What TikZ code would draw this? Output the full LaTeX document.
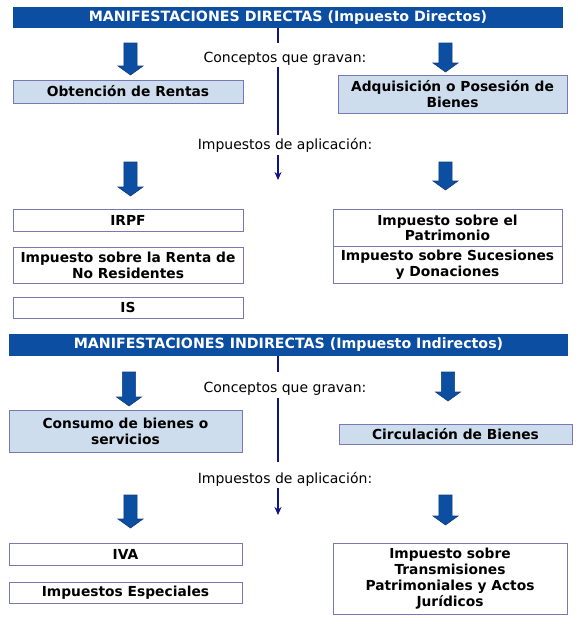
\documentclass[tikz,border=0pt]{standalone}
\usepackage{fontspec}
\setmainfont{DejaVu Sans}
\usetikzlibrary{arrows.meta}

\definecolor{hdrblue}{HTML}{0B4EA2}
\definecolor{arrblue}{HTML}{0B4EA2}
\definecolor{arredge}{HTML}{163D7A}
\definecolor{axisblue}{HTML}{12128A}
\definecolor{boxedge}{HTML}{7878B4}
\definecolor{boxfill}{HTML}{CEDDED}

\begin{document}
\begin{tikzpicture}[
  x=1pt, y=-1pt,
  header/.style={fill=hdrblue, text=white, inner sep=0pt,
    font=\bfseries\fontsize{14.2}{16}\selectfont},
  conceptbox/.style={draw=boxedge, fill=boxfill, line width=0.8pt, inner sep=0pt,
    align=center, font=\bfseries\fontsize{13.8}{16}\selectfont},
  taxbox/.style={conceptbox, fill=white},
  tight/.style={font=\bfseries\fontsize{13.8}{15.5}\selectfont},
  caption/.style={fill=white, anchor=base, inner xsep=3pt, inner ysep=0pt,
    font=\fontsize{14}{16}\selectfont},
  axisline/.style={draw=axisblue, line width=1.7pt, -{Stealth[length=8pt,width=7pt]}},
  pics/blockarrow/.style={code={
    \filldraw[fill=arrblue, draw=arredge, line width=0.6pt]
      (-6.6,0) -- (6.6,0) -- (6.6,#1-9) -- (12.5,#1-9) -- (0,#1)
      -- (-12.5,#1-9) -- (-6.6,#1-9) -- cycle;}}
]
\useasboundingbox (0,0) rectangle (578,629);

% ---------------- direct taxes ----------------
\node[header, minimum width=550pt, minimum height=21pt] (hdr1) at (288,17.5)
  {MANIFESTACIONES DIRECTAS (Impuesto Directos)};

\coordinate (ax1) at (278,180);
\draw[axisline] (hdr1.south -| ax1) -- (ax1);
\node[caption, text height=19.5pt, text depth=4.5pt] (lab1) at (285,62.5) {Conceptos que gravan:};
\node[caption, text height=14pt, text depth=6pt] (lab2) at (285,149) {Impuestos de aplicación:};

\pic at (130.5,43) {blockarrow=32};
\pic at (445.5,43) {blockarrow=29};
\node[conceptbox, minimum width=230pt, minimum height=23pt] (obt) at (128,91.5) {Obtención de Rentas};
\node[conceptbox, minimum width=229pt, minimum height=38pt] (adq) at (452.5,94.2)
  {Adquisición o Posesión de\\Bienes};

\pic at (130.5,162) {blockarrow=34};
\pic at (445.5,162) {blockarrow=28};
\node[taxbox, minimum width=230pt, minimum height=22pt] (irpf) at (128,220) {IRPF};
\node[taxbox, tight, minimum width=230pt, minimum height=36pt] (irnr) at (128,265.5)
  {Impuesto sobre la Renta de\\No Residentes};
\node[taxbox, minimum width=230pt, minimum height=21pt] (is) at (128,307.5) {IS};
\node[taxbox, tight, minimum width=229pt, minimum height=37pt] (ip) at (447.5,228)
  {Impuesto sobre el\\Patrimonio};
\node[taxbox, tight, minimum width=229pt, minimum height=37pt] (isd) at (447.5,264.5)
  {Impuesto sobre Sucesiones\\y Donaciones};

% ---------------- indirect taxes ----------------
\node[header, minimum width=559pt, minimum height=22pt] (hdr2) at (288.5,345)
  {MANIFESTACIONES INDIRECTAS (Impuesto Indirectos)};

\coordinate (ax2) at (278,515);
\draw[axisline] (hdr2.south -| ax2) -- (ax2);
\node[caption, text height=20pt, text depth=6pt] (lab3) at (285,392) {Conceptos que gravan:};
\node[caption, text height=21pt, text depth=5pt] (lab4) at (285,483) {Impuestos de aplicación:};

\pic at (129,372) {blockarrow=34};
\pic at (448,372) {blockarrow=29};
\node[conceptbox, minimum width=233pt, minimum height=42pt] (cons) at (125.5,431)
  {Consumo de bienes o\\servicios};
\node[conceptbox, minimum width=233pt, minimum height=20pt] (circ) at (455.5,434)
  {Circulación de Bienes};

\pic at (130.5,495) {blockarrow=33};
\pic at (445.5,495) {blockarrow=30};
\node[taxbox, minimum width=233pt, minimum height=22pt] (iva) at (125.5,554) {IVA};
\node[taxbox, minimum width=233pt, minimum height=21pt] (ie) at (125.5,592.5) {Impuestos Especiales};
\node[taxbox, minimum width=234pt, minimum height=71pt] (itp) at (450,578.5)
  {Impuesto sobre\\Transmisiones\\Patrimoniales y Actos\\Jurídicos};
\end{tikzpicture}
\end{document}
